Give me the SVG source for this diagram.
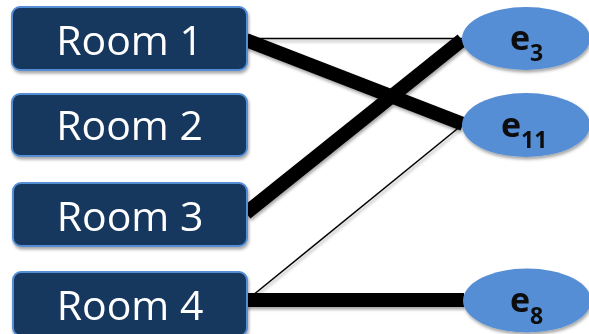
<svg xmlns="http://www.w3.org/2000/svg" width="589" height="334" viewBox="0 0 589 334">
  <defs>
    <filter id="shadow" x="-20%" y="-20%" width="140%" height="160%">
      <feDropShadow dx="1" dy="2.5" stdDeviation="1.8" flood-color="#000" flood-opacity="0.35"/>
    </filter>
    <style>
      .room rect { fill: #17375e; stroke: #558ed5; stroke-width: 2; }
      .room text { font-family: "Open Sans", "Liberation Sans", sans-serif; font-size: 41px; fill: #ffffff; text-anchor: middle; }
      .item ellipse { fill: #558ed5; }
      .item text { font-family: "Open Sans", "Liberation Sans", sans-serif; font-weight: bold; font-size: 34px; fill: #0d0d0d; }
      .item tspan.sub { font-size: 23px; }
      .thick { stroke: #000; stroke-width: 14; fill: none; }
      .thin { stroke: #000; stroke-width: 1.5; fill: none; }
    </style>
  </defs>

  <!-- connectors -->
  <g id="connectors" filter="url(#shadow)">
    <line class="thin" x1="247" y1="38.5" x2="463" y2="38.5"/>
    <line class="thin" x1="247" y1="300" x2="462" y2="125"/>
    <line class="thick" x1="246" y1="40" x2="463" y2="124"/>
    <line class="thick" x1="246" y1="213" x2="462" y2="40"/>
    <line class="thick" x1="246" y1="300" x2="464" y2="300"/>
  </g>

  <!-- rooms -->
  <g id="room1" class="room" filter="url(#shadow)">
    <rect x="12" y="7" width="235" height="63" rx="8"/>
    <text x="129.5" y="55">Room 1</text>
  </g>
  <g id="room2" class="room" filter="url(#shadow)">
    <rect x="12" y="94" width="235" height="62" rx="8"/>
    <text x="129.5" y="140">Room 2</text>
  </g>
  <g id="room3" class="room" filter="url(#shadow)">
    <rect x="13" y="183" width="234" height="63" rx="8"/>
    <text x="130" y="231">Room 3</text>
  </g>
  <g id="room4" class="room" filter="url(#shadow)">
    <rect x="13" y="272" width="234" height="64" rx="8"/>
    <text x="130" y="320">Room 4</text>
  </g>

  <!-- items -->
  <g id="e3" class="item" filter="url(#shadow)">
    <ellipse cx="526" cy="38.5" rx="64" ry="31.5"/>
    <text x="510" y="50">e<tspan class="sub" dy="11">3</tspan></text>
  </g>
  <g id="e11" class="item" filter="url(#shadow)">
    <ellipse cx="526" cy="125" rx="64" ry="32"/>
    <text x="501" y="137">e<tspan class="sub" dy="11">11</tspan></text>
  </g>
  <g id="e8" class="item" filter="url(#shadow)">
    <ellipse cx="527" cy="300.5" rx="64" ry="32"/>
    <text x="510" y="312">e<tspan class="sub" dy="12">8</tspan></text>
  </g>
</svg>
